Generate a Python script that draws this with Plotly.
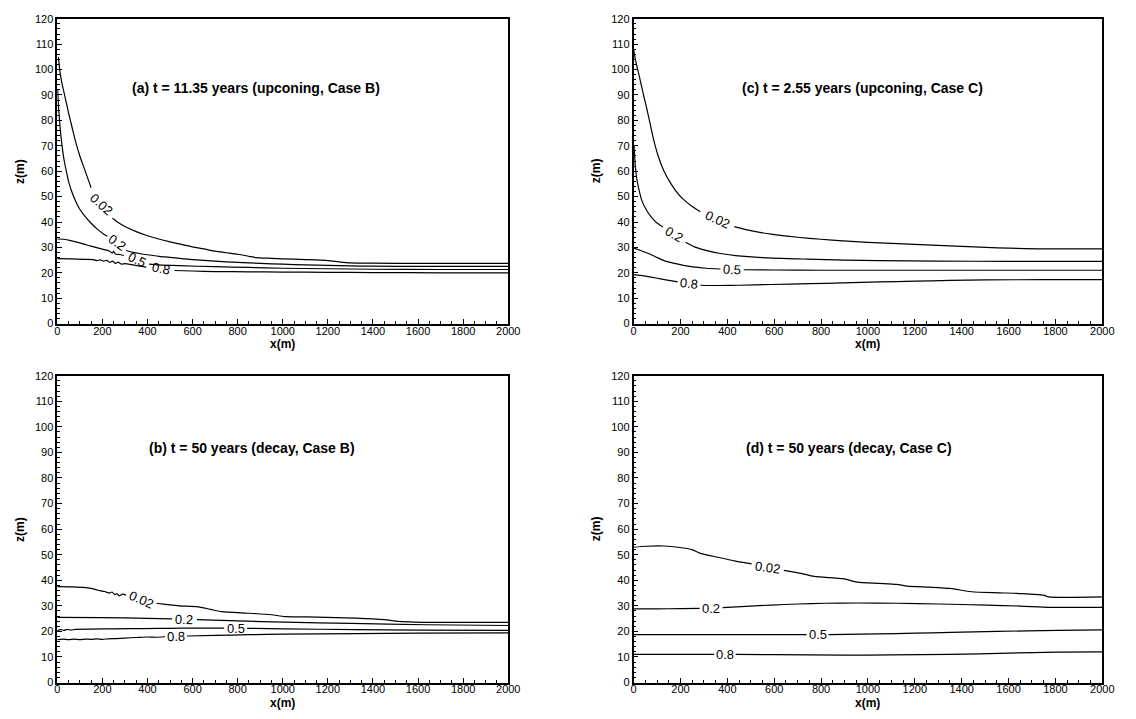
import plotly.graph_objects as go

# ---------------- data ----------------
levels = ["0.02", "0.2", "0.5", "0.8"]

# Panel (a): t = 11.35 years (upconing, Case B)  -- each line: two segments split by label
a_002_x1 = [5, 12, 20, 35, 50, 65, 80, 100, 120, 140, 150]
a_002_y1 = [105, 99, 95, 89, 83, 77.5, 72, 66, 61, 56, 53.5]
a_002_x2 = [245, 270, 300, 350, 400, 450, 500, 550, 600, 650, 700, 750, 800, 850, 880, 950, 1000, 1100, 1200, 1250, 1300, 1400, 1600, 1800, 2000]
a_002_y2 = [41.5, 39.8, 38.2, 36.2, 34.6, 33.3, 32.2, 31.2, 30.2, 29.4, 28.5, 27.9, 27.3, 26.5, 26.0, 25.7, 25.5, 25.2, 24.8, 24.3, 23.9, 23.8, 23.7, 23.7, 23.7]
a_02_x1 = [2, 5, 10, 16, 22, 30, 40, 50, 62, 80, 100, 125, 150, 180, 210, 222]
a_02_y1 = [92, 86, 80, 74, 69.5, 64.5, 60, 56, 52.5, 48.5, 45, 42, 39.5, 37, 35, 34.4]
a_02_x2 = [305, 330, 370, 400, 450, 500, 550, 600, 700, 800, 900, 1000, 1100, 1200, 1300, 1400, 1600, 2000]
a_02_y2 = [28.8, 28.2, 27.5, 27.1, 26.5, 26.1, 25.6, 25.2, 24.6, 24.1, 23.7, 23.4, 23.1, 22.9, 22.7, 22.6, 22.5, 22.5]
a_05_x1 = [0, 30, 60, 100, 150, 200, 230, 245, 250, 258, 275, 295]
a_05_y1 = [33.3, 33.2, 32.7, 31.8, 30.5, 29.3, 28.6, 27.8, 28.5, 27.4, 27.2, 26.8]
a_05_x2 = [407, 450, 540, 700, 850, 1000, 1200, 1400, 1700, 2000]
a_05_y2 = [23.4, 23.1, 22.8, 22.4, 22.1, 21.8, 21.6, 21.4, 21.3, 21.3]
a_08_x1 = [0, 60, 120, 160, 175, 190, 205, 220, 232, 245, 258, 270, 285, 300, 330, 360, 395]
a_08_y1 = [25.6, 25.5, 25.3, 25.2, 24.8, 25.1, 24.6, 24.9, 24.1, 24.6, 23.7, 24.2, 23.4, 23.6, 23.2, 22.7, 22.2]
a_08_x2 = [520, 600, 700, 850, 1000, 1200, 1400, 1700, 2000]
a_08_y2 = [20.9, 20.7, 20.5, 20.4, 20.3, 20.2, 20.1, 20.0, 20.0]

# Panel (c): t = 2.55 years (upconing, Case C)
c_002_x1 = [0, 10, 23, 40, 53, 70, 84, 105, 130, 160, 191, 220, 252, 285]
c_002_y1 = [108, 103, 98, 91, 86, 79, 73, 66, 60, 55, 51, 48.3, 46, 44]
c_002_x2 = [430, 500, 588, 700, 800, 893, 1000, 1100, 1199, 1300, 1400, 1504, 1600, 1733, 2000]
c_002_y2 = [38.2, 36.6, 35.2, 34.0, 33.2, 32.6, 32.0, 31.6, 31.2, 30.8, 30.4, 30.0, 29.7, 29.4, 29.4]
c_02_x1 = [2, 6, 12, 23, 35, 53, 75, 99, 115, 125]
c_02_y1 = [70, 64, 58, 52.7, 48.5, 45, 42, 39.7, 38.6, 38.0]
c_02_x2 = [222, 260, 313, 370, 435, 550, 740, 900, 1046, 1300, 1600, 2000]
c_02_y2 = [32.0, 30.2, 28.7, 27.6, 26.8, 26.0, 25.4, 25.0, 24.8, 24.6, 24.5, 24.5]
c_05_x1 = [0, 30, 69, 100, 130, 190, 252, 310, 370]
c_05_y1 = [29.8, 28.8, 27.4, 26.0, 24.8, 23.4, 22.3, 21.8, 21.5]
c_05_x2 = [470, 600, 800, 1000, 1400, 2000]
c_05_y2 = [21.2, 21.1, 21.0, 21.0, 21.0, 21.0]
c_08_x1 = [0, 30, 69, 120, 170, 188]
c_08_y1 = [19.3, 19.0, 18.4, 17.5, 16.7, 16.4]
c_08_x2 = [285, 320, 359, 450, 588, 750, 893, 1050, 1199, 1350, 1504, 1750, 2000]
c_08_y2 = [15.1, 15.0, 15.0, 15.1, 15.4, 15.7, 16.0, 16.4, 16.7, 17.0, 17.2, 17.3, 17.3]

# Panel (b): t = 50 years (decay, Case B)
b_002_x1 = [0, 60, 117, 150, 180, 210, 230, 243, 255, 265, 274, 290, 305]
b_002_y1 = [37.5, 37.4, 37.2, 36.8, 36.1, 35.6, 35.0, 35.4, 34.4, 34.8, 33.9, 34.6, 34.2]
b_002_x2 = [440, 480, 540, 619, 680, 728, 853, 950, 1010, 1150, 1323, 1450, 1511, 1560, 1636, 2000]
b_002_y2 = [31.0, 30.6, 30.0, 29.7, 28.6, 27.7, 27.1, 26.5, 25.8, 25.6, 25.2, 24.6, 23.9, 23.7, 23.5, 23.5]
b_02_x1 = [0, 200, 400, 509]
b_02_y1 = [25.5, 25.4, 25.1, 24.9]
b_02_x2 = [619, 800, 1010, 1300, 1636, 2000]
b_02_y2 = [24.6, 24.1, 23.6, 23.1, 22.6, 22.3]
b_05_x1 = [0, 15, 30, 45, 60, 80, 150, 250, 384, 500, 600, 740]
b_05_y1 = [20.3, 20.7, 20.4, 20.8, 20.5, 20.8, 20.9, 21.0, 21.1, 21.2, 21.3, 21.3]
b_05_x2 = [842, 1000, 1323, 1600, 2000]
b_05_y2 = [21.2, 21.0, 20.7, 20.5, 20.4]
b_08_x1 = [0, 25, 50, 75, 100, 125, 150, 175, 200, 227, 260, 300, 350, 400, 440, 478]
b_08_y1 = [16.8, 17.0, 16.8, 17.0, 16.8, 17.0, 16.9, 17.1, 16.9, 17.1, 17.2, 17.4, 17.6, 17.8, 17.7, 17.9]
b_08_x2 = [575, 700, 853, 1000, 1323, 1600, 2000]
b_08_y2 = [18.2, 18.4, 18.7, 18.9, 19.1, 19.3, 19.4]

# Panel (d): t = 50 years (decay, Case C)
d_002_x1 = [0, 53, 130, 191, 252, 282, 359, 435, 504]
d_002_y1 = [52.9, 53.3, 53.4, 52.9, 51.9, 50.6, 49.0, 47.5, 46.4]
d_002_x2 = [641, 710, 771, 893, 954, 1050, 1122, 1168, 1260, 1351, 1443, 1560, 1656, 1748, 1771, 2000]
d_002_y2 = [43.9, 42.8, 41.5, 40.6, 39.3, 38.8, 38.4, 37.7, 37.3, 36.8, 35.5, 35.1, 34.8, 34.2, 33.5, 33.5]
d_02_x1 = [0, 100, 200, 282]
d_02_y1 = [28.8, 28.8, 28.9, 29.0]
d_02_x2 = [380, 480, 588, 700, 817, 950, 1122, 1300, 1504, 1650, 1779, 2000]
d_02_y2 = [29.3, 29.8, 30.3, 30.7, 31.0, 31.1, 31.0, 30.7, 30.3, 29.9, 29.4, 29.4]
d_05_x1 = [0, 200, 400, 600, 738]
d_05_y1 = [18.7, 18.7, 18.7, 18.7, 18.7]
d_05_x2 = [832, 1046, 1200, 1351, 1550, 1809, 2000]
d_05_y2 = [18.7, 19.0, 19.3, 19.6, 20.0, 20.4, 20.6]
d_08_x1 = [0, 150, 344]
d_08_y1 = [11.0, 11.0, 11.0]
d_08_x2 = [436, 600, 893, 1100, 1351, 1600, 1809, 2000]
d_08_y2 = [11.0, 10.9, 10.7, 10.8, 11.0, 11.5, 11.9, 12.0]

# contour label positions (x, y, angle) per panel, order = levels
a_lab_x = [197, 265, 352, 459]
a_lab_y = [47.0, 31.8, 25.2, 21.6]
a_lab_ang = [42, 35, 25, 12]
c_lab_x = [358, 173, 420, 236]
c_lab_y = [41.0, 35.0, 21.2, 15.9]
c_lab_ang = [24, 30, 3, 6]
b_lab_x = [372, 564, 791, 526]
b_lab_y = [32.6, 24.7, 21.2, 18.0]
b_lab_ang = [24, 2, 0, -2]
d_lab_x = [573, 331, 785, 390]
d_lab_y = [45.0, 29.1, 18.7, 11.0]
d_lab_ang = [8, 0, 0, 0]

titles = ["(a) t = 11.35 years (upconing, Case B)",
          "(c) t = 2.55 years (upconing, Case C)",
          "(b) t = 50 years (decay, Case B)",
          "(d) t = 50 years (decay, Case C)"]
title_x = [880, 975, 865, 918]
title_y = [92.6, 92.8, 91.8, 91.8]

x_ticks = list(range(0, 2001, 200))
y_ticks = list(range(0, 121, 10))

# ---------------- figure ----------------
W, H = 1136, 719
FONT = "Liberation Sans, Arial, sans-serif"

panels = [
    ("", (55, 512), (13, 323),
     [(a_002_x1, a_002_y1, a_002_x2, a_002_y2), (a_02_x1, a_02_y1, a_02_x2, a_02_y2),
      (a_05_x1, a_05_y1, a_05_x2, a_05_y2), (a_08_x1, a_08_y1, a_08_x2, a_08_y2)],
     (a_lab_x, a_lab_y, a_lab_ang), 0),
    ("2", (639, 1114), (13, 323),
     [(c_002_x1, c_002_y1, c_002_x2, c_002_y2), (c_02_x1, c_02_y1, c_02_x2, c_02_y2),
      (c_05_x1, c_05_y1, c_05_x2, c_05_y2), (c_08_x1, c_08_y1, c_08_x2, c_08_y2)],
     (c_lab_x, c_lab_y, c_lab_ang), 1),
    ("3", (55, 512), (376, 688),
     [(b_002_x1, b_002_y1, b_002_x2, b_002_y2), (b_02_x1, b_02_y1, b_02_x2, b_02_y2),
      (b_05_x1, b_05_y1, b_05_x2, b_05_y2), (b_08_x1, b_08_y1, b_08_x2, b_08_y2)],
     (b_lab_x, b_lab_y, b_lab_ang), 2),
    ("4", (639, 1114), (376, 688),
     [(d_002_x1, d_002_y1, d_002_x2, d_002_y2), (d_02_x1, d_02_y1, d_02_x2, d_02_y2),
      (d_05_x1, d_05_y1, d_05_x2, d_05_y2), (d_08_x1, d_08_y1, d_08_x2, d_08_y2)],
     (d_lab_x, d_lab_y, d_lab_ang), 3),
]

fig = go.Figure()
annotations = []
layout = dict(width=W, height=H, margin=dict(l=0, r=0, t=0, b=0),
              paper_bgcolor="white", plot_bgcolor="white", showlegend=False,
              font=dict(family=FONT, color="black"))

for suf, (x0, x1), (yt, yb), lines, (lx, ly, la), ti in panels:
    xa, ya = "x" + suf, "y" + suf
    for (sx1, sy1, sx2, sy2) in lines:
        xs = list(sx1) + [None] + list(sx2)
        ys = list(sy1) + [None] + list(sy2)
        fig.add_trace(go.Scatter(x=xs, y=ys, mode="lines", xaxis=xa, yaxis=ya,
                                 line=dict(color="black", width=1.2, shape="spline",
                                           smoothing=0.6),
                                 hoverinfo="skip", connectgaps=False))
    for i, lev in enumerate(levels):
        annotations.append(dict(x=lx[i], y=ly[i], xref=xa, yref=ya, text=lev,
                                showarrow=False, textangle=la[i],
                                xanchor="center", yanchor="middle",
                                font=dict(family=FONT, size=13, color="black")))
    annotations.append(dict(x=title_x[ti], y=title_y[ti], xref=xa, yref=ya,
                            text="<b>" + titles[ti] + "</b>", showarrow=False,
                            xanchor="center", yanchor="middle",
                            font=dict(family=FONT, size=14, color="black")))
    # axis titles
    annotations.append(dict(x=(x0 - 38) / W, y=1 - (yt + yb) / 2 / H, xref="paper", yref="paper",
                            text="<b>z(m)</b>", textangle=-90, showarrow=False,
                            xanchor="center", yanchor="middle",
                            font=dict(family=FONT, size=12, color="black")))
    annotations.append(dict(x=(x0 + x1) / 2 / W, y=1 - (yb + 21) / H, xref="paper", yref="paper",
                            text="<b>x(m)</b>", showarrow=False,
                            xanchor="center", yanchor="middle",
                            font=dict(family=FONT, size=12, color="black")))
    common = dict(showline=True, linecolor="black", linewidth=1.5, mirror=True,
                  showgrid=False, zeroline=False, ticks="inside", ticklen=5, tickwidth=1,
                  tickcolor="black", tickfont=dict(family=FONT, size=11, color="black"))
    layout["xaxis" + suf] = dict(common, domain=[x0 / W, x1 / W], range=[0, 2000],
                                 tickvals=x_ticks, anchor=ya, ticklabelstandoff=-4,
                                 minor=dict(dtick=50, tick0=0, ticks="inside", ticklen=3,
                                            tickcolor="black", tickwidth=1))
    layout["yaxis" + suf] = dict(common, domain=[1 - yb / H, 1 - yt / H], range=[0, 120],
                                 tickvals=y_ticks, anchor=xa,
                                 minor=dict(dtick=2, tick0=0, ticks="inside", ticklen=3,
                                            tickcolor="black", tickwidth=1))

layout["annotations"] = annotations
fig.update_layout(**layout)
fig.write_html("out.html")
